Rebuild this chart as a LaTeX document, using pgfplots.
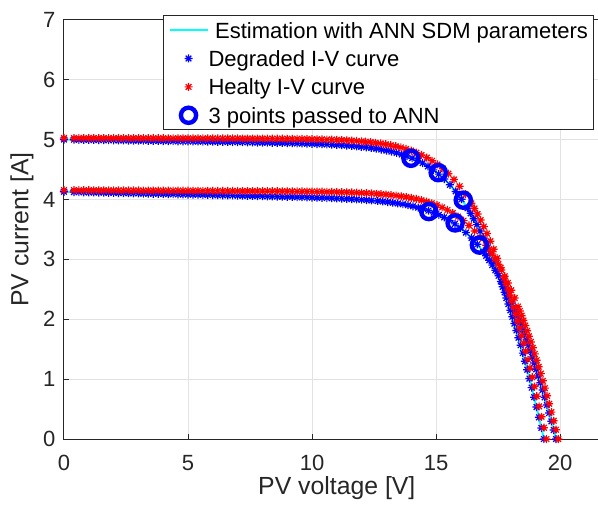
\documentclass[border=0pt]{standalone}
\usepackage{fontspec}
\setmainfont{Liberation Sans}
\usepackage{pgfplots}
\usepackage{pgfplotstable}
\pgfplotsset{compat=1.18}

\definecolor{axgray}{RGB}{38,38,38}
\definecolor{gridgray}{RGB}{226,226,226}
\definecolor{mcyan}{RGB}{0,255,255}
\definecolor{mblue}{RGB}{0,0,255}
\definecolor{mred}{RGB}{255,0,0}

% MATLAB-like '*' marker: plus and cross
\pgfdeclareplotmark{mstar}{%
  \pgfpathmoveto{\pgfqpoint{-\pgfplotmarksize}{0pt}}\pgfpathlineto{\pgfqpoint{\pgfplotmarksize}{0pt}}%
  \pgfpathmoveto{\pgfqpoint{0pt}{-\pgfplotmarksize}}\pgfpathlineto{\pgfqpoint{0pt}{\pgfplotmarksize}}%
  \pgfpathmoveto{\pgfqpoint{-0.707\pgfplotmarksize}{-0.707\pgfplotmarksize}}\pgfpathlineto{\pgfqpoint{0.707\pgfplotmarksize}{0.707\pgfplotmarksize}}%
  \pgfpathmoveto{\pgfqpoint{-0.707\pgfplotmarksize}{0.707\pgfplotmarksize}}\pgfpathlineto{\pgfqpoint{0.707\pgfplotmarksize}{-0.707\pgfplotmarksize}}%
  \pgfusepathqstroke}

\pgfplotsset{
  legline/.style={legend image code/.code={\draw[##1] (0pt,0pt) -- (19pt,0pt);}},
  legmark/.style={legend image code/.code={\path[draw=none,fill=none] (0pt,0pt) (19pt,0pt); \draw[##1] plot coordinates {(9.5pt,0pt)};}},
}

% degraded curve, high irradiance
\pgfplotstableread[row sep=\\]{
V I\\
0 5.002\\ 0.4 5.000\\ 0.6 4.998\\ 0.8 4.997\\ 1.0 4.996\\ 1.2 4.995\\ 1.4 4.994\\ 1.6 4.992\\ 1.8 4.991\\ 2.0 4.990\\
2.2 4.989\\ 2.4 4.988\\ 2.6 4.986\\ 2.8 4.985\\ 3.0 4.984\\ 3.2 4.983\\ 3.4 4.982\\ 3.6 4.980\\ 3.8 4.979\\ 4.0 4.978\\
4.2 4.977\\ 4.4 4.976\\ 4.6 4.974\\ 4.8 4.973\\ 5.0 4.972\\ 5.2 4.971\\ 5.4 4.970\\ 5.6 4.968\\ 5.8 4.967\\ 6.0 4.966\\
6.2 4.965\\ 6.4 4.964\\ 6.6 4.962\\ 6.8 4.961\\ 7.0 4.959\\ 7.2 4.958\\ 7.4 4.956\\ 7.6 4.955\\ 7.8 4.953\\ 8.0 4.952\\
8.2 4.950\\ 8.4 4.948\\ 8.6 4.947\\ 8.8 4.945\\ 9.0 4.943\\ 9.2 4.941\\ 9.4 4.939\\ 9.6 4.937\\ 9.8 4.934\\ 10.0 4.931\\
10.2 4.928\\ 10.4 4.925\\ 10.6 4.922\\ 10.8 4.918\\ 11.0 4.913\\ 11.2 4.908\\ 11.4 4.903\\ 11.6 4.896\\ 11.8 4.889\\
11.983 4.881\\ 12.186 4.872\\ 12.389 4.862\\ 12.592 4.850\\ 12.796 4.836\\ 13.001 4.819\\ 13.206 4.801\\ 13.412 4.779\\
13.619 4.754\\ 13.827 4.726\\ 14.036 4.692\\ 14.247 4.654\\ 14.460 4.609\\ 14.674 4.556\\ 14.891 4.496\\ 15.111 4.425\\
15.334 4.343\\ 15.561 4.247\\ 15.792 4.136\\ 16.028 4.006\\ 16.271 3.855\\ 16.394 3.770\\ 16.520 3.679\\ 16.647 3.581\\
16.777 3.474\\ 16.909 3.359\\ 17.044 3.235\\ 17.182 3.101\\ 17.322 2.957\\ 17.466 2.801\\ 17.613 2.632\\ 17.688 2.543\\
17.764 2.450\\ 17.841 2.354\\ 17.919 2.254\\ 17.998 2.150\\ 18.078 2.042\\ 18.160 1.929\\ 18.242 1.813\\ 18.326 1.692\\
18.412 1.566\\ 18.498 1.435\\ 18.586 1.299\\ 18.676 1.157\\ 18.767 1.010\\ 18.860 0.858\\ 18.954 0.699\\ 19.050 0.534\\
19.148 0.363\\ 19.248 0.185\\ 19.350 0.000\\
}\degA

% healthy curve, high irradiance
\pgfplotstableread[row sep=\\]{
V I\\
0 5.029\\ 0.4 5.028\\ 0.6 5.028\\ 0.8 5.028\\ 1.0 5.028\\ 1.2 5.028\\ 1.4 5.027\\ 1.6 5.027\\ 1.8 5.027\\ 2.0 5.027\\
2.2 5.026\\ 2.4 5.026\\ 2.6 5.026\\ 2.8 5.026\\ 3.0 5.026\\ 3.2 5.025\\ 3.4 5.025\\ 3.6 5.025\\ 3.8 5.025\\ 4.0 5.025\\
4.2 5.024\\ 4.4 5.024\\ 4.6 5.024\\ 4.8 5.024\\ 5.0 5.024\\ 5.2 5.023\\ 5.4 5.023\\ 5.6 5.023\\ 5.8 5.023\\ 6.0 5.023\\
6.2 5.022\\ 6.4 5.022\\ 6.6 5.022\\ 6.8 5.021\\ 7.0 5.021\\ 7.2 5.020\\ 7.4 5.020\\ 7.6 5.020\\ 7.8 5.019\\ 8.0 5.019\\
8.2 5.018\\ 8.4 5.018\\ 8.6 5.017\\ 8.8 5.016\\ 9.0 5.015\\ 9.2 5.014\\ 9.4 5.014\\ 9.6 5.012\\ 9.8 5.011\\ 10.0 5.009\\
10.2 5.007\\ 10.4 5.005\\ 10.6 5.003\\ 10.8 5.001\\ 11.0 4.997\\ 11.2 4.994\\ 11.4 4.990\\ 11.6 4.985\\ 11.8 4.979\\
12.0 4.973\\ 12.159 4.967\\ 12.361 4.959\\ 12.563 4.949\\ 12.766 4.937\\ 12.970 4.924\\ 13.174 4.909\\ 13.379 4.891\\
13.584 4.870\\ 13.790 4.845\\ 13.998 4.817\\ 14.206 4.784\\ 14.416 4.745\\ 14.628 4.700\\ 14.842 4.648\\ 15.058 4.586\\
15.276 4.515\\ 15.498 4.432\\ 15.723 4.335\\ 15.952 4.222\\ 16.187 4.090\\ 16.427 3.937\\ 16.549 3.851\\ 16.673 3.758\\
16.799 3.657\\ 16.927 3.549\\ 17.058 3.432\\ 17.191 3.305\\ 17.326 3.169\\ 17.465 3.021\\ 17.606 2.862\\ 17.751 2.690\\
17.824 2.599\\ 17.899 2.504\\ 17.975 2.406\\ 18.051 2.304\\ 18.129 2.197\\ 18.207 2.087\\ 18.287 1.972\\ 18.368 1.853\\
18.450 1.729\\ 18.534 1.600\\ 18.619 1.467\\ 18.705 1.328\\ 18.792 1.183\\ 18.881 1.033\\ 18.972 0.877\\ 19.064 0.715\\
19.158 0.546\\ 19.254 0.371\\ 19.351 0.189\\ 19.450 0.000\\
}\healA

% degraded curve, low irradiance
\pgfplotstableread[row sep=\\]{
V I\\
0 4.129\\ 0.4 4.126\\ 0.6 4.124\\ 0.8 4.122\\ 1.0 4.120\\ 1.2 4.118\\ 1.4 4.117\\ 1.6 4.115\\ 1.8 4.113\\ 2.0 4.111\\
2.2 4.109\\ 2.4 4.108\\ 2.6 4.106\\ 2.8 4.104\\ 3.0 4.102\\ 3.2 4.100\\ 3.4 4.099\\ 3.6 4.097\\ 3.8 4.095\\ 4.0 4.093\\
4.2 4.091\\ 4.4 4.090\\ 4.6 4.088\\ 4.8 4.086\\ 5.0 4.084\\ 5.2 4.082\\ 5.4 4.081\\ 5.6 4.079\\ 5.8 4.077\\ 6.0 4.075\\
6.2 4.073\\ 6.4 4.072\\ 6.6 4.070\\ 6.8 4.068\\ 7.0 4.066\\ 7.2 4.064\\ 7.4 4.062\\ 7.6 4.060\\ 7.8 4.058\\ 8.0 4.056\\
8.2 4.054\\ 8.4 4.052\\ 8.6 4.050\\ 8.8 4.048\\ 9.0 4.046\\ 9.2 4.044\\ 9.4 4.041\\ 9.6 4.039\\ 9.8 4.037\\ 10.0 4.034\\
10.2 4.031\\ 10.4 4.029\\ 10.6 4.026\\ 10.8 4.023\\ 11.0 4.019\\ 11.2 4.016\\ 11.4 4.012\\ 11.6 4.007\\ 11.8 4.003\\
12.0 3.997\\ 12.2 3.992\\ 12.4 3.985\\ 12.647 3.976\\ 12.850 3.968\\ 13.052 3.959\\ 13.256 3.948\\ 13.459 3.936\\
13.663 3.922\\ 13.868 3.906\\ 14.074 3.888\\ 14.280 3.867\\ 14.487 3.843\\ 14.696 3.815\\ 14.905 3.783\\ 15.116 3.745\\
15.329 3.702\\ 15.544 3.652\\ 15.762 3.594\\ 15.982 3.527\\ 16.205 3.449\\ 16.433 3.358\\ 16.664 3.252\\ 16.901 3.129\\
17.022 3.060\\ 17.144 2.986\\ 17.268 2.905\\ 17.394 2.819\\ 17.522 2.726\\ 17.653 2.625\\ 17.785 2.516\\ 17.920 2.399\\
18.058 2.272\\ 18.200 2.135\\ 18.271 2.063\\ 18.344 1.987\\ 18.417 1.909\\ 18.492 1.828\\ 18.567 1.744\\ 18.643 1.656\\
18.721 1.565\\ 18.799 1.470\\ 18.878 1.372\\ 18.959 1.270\\ 19.041 1.164\\ 19.124 1.053\\ 19.208 0.939\\ 19.294 0.819\\
19.381 0.696\\ 19.470 0.567\\ 19.560 0.434\\ 19.652 0.295\\ 19.745 0.150\\ 19.840 0.000\\
}\degB

% healthy curve, low irradiance
\pgfplotstableread[row sep=\\]{
V I\\
0 4.158\\ 0.4 4.157\\ 0.6 4.156\\ 0.8 4.156\\ 1.0 4.156\\ 1.2 4.155\\ 1.4 4.155\\ 1.6 4.155\\ 1.8 4.154\\ 2.0 4.154\\
2.2 4.153\\ 2.4 4.153\\ 2.6 4.153\\ 2.8 4.152\\ 3.0 4.152\\ 3.2 4.151\\ 3.4 4.151\\ 3.6 4.151\\ 3.8 4.150\\ 4.0 4.150\\
4.2 4.149\\ 4.4 4.149\\ 4.6 4.149\\ 4.8 4.148\\ 5.0 4.148\\ 5.2 4.147\\ 5.4 4.147\\ 5.6 4.147\\ 5.8 4.146\\ 6.0 4.146\\
6.2 4.145\\ 6.4 4.145\\ 6.6 4.144\\ 6.8 4.144\\ 7.0 4.143\\ 7.2 4.143\\ 7.4 4.142\\ 7.6 4.142\\ 7.8 4.141\\ 8.0 4.141\\
8.2 4.140\\ 8.4 4.140\\ 8.6 4.139\\ 8.8 4.138\\ 9.0 4.138\\ 9.2 4.137\\ 9.4 4.136\\ 9.6 4.135\\ 9.8 4.134\\ 10.0 4.133\\
10.2 4.132\\ 10.4 4.131\\ 10.6 4.129\\ 10.8 4.127\\ 11.0 4.125\\ 11.2 4.123\\ 11.4 4.121\\ 11.6 4.118\\ 11.8 4.115\\
12.0 4.111\\ 12.2 4.107\\ 12.4 4.103\\ 12.6 4.097\\ 12.784 4.091\\ 12.986 4.084\\ 13.189 4.076\\ 13.391 4.066\\
13.595 4.055\\ 13.798 4.042\\ 14.002 4.027\\ 14.207 4.010\\ 14.413 3.989\\ 14.620 3.966\\ 14.827 3.938\\ 15.036 3.906\\
15.247 3.869\\ 15.459 3.826\\ 15.673 3.775\\ 15.890 3.716\\ 16.109 3.648\\ 16.331 3.568\\ 16.557 3.475\\ 16.788 3.366\\
17.023 3.239\\ 17.143 3.169\\ 17.264 3.092\\ 17.387 3.009\\ 17.512 2.920\\ 17.639 2.824\\ 17.769 2.719\\ 17.900 2.607\\
18.034 2.486\\ 18.171 2.355\\ 18.310 2.213\\ 18.381 2.138\\ 18.453 2.060\\ 18.526 1.979\\ 18.599 1.895\\ 18.674 1.808\\
18.749 1.717\\ 18.826 1.622\\ 18.903 1.524\\ 18.982 1.422\\ 19.061 1.317\\ 19.142 1.206\\ 19.224 1.092\\ 19.308 0.973\\
19.392 0.850\\ 19.478 0.721\\ 19.565 0.588\\ 19.654 0.449\\ 19.745 0.305\\ 19.836 0.156\\ 19.930 0.000\\
}\healB

% the three measured points of each degraded curve
\pgfplotstableread[row sep=\\]{
V I\\
13.99 4.69\\ 15.09 4.45\\ 16.10 3.99\\
14.71 3.80\\ 15.77 3.61\\ 16.75 3.24\\
}\annpts

\begin{document}
\begin{tikzpicture}
\begin{axis}[
    x=12.4pt, y=29.93pt,
    xmin=0, xmax=22, ymin=0, ymax=7,
    xtick={0,5,10,15,20}, ytick={0,1,2,3,4,5,6,7},
    grid=major,
    major grid style={gridgray, line width=0.5pt},
    axis line style={axgray, line width=0.5pt},
    tick align=inside, major tick length=2.5pt,
    tick style={axgray, line width=0.5pt},
    /pgf/number format/assume math mode=true,
    ticklabel style={font=\fontsize{11}{13}\selectfont, text=axgray},
    xticklabel style={yshift=-4.5pt},
    yticklabel style={xshift=-0.8pt},
    xlabel={PV voltage [V]}, ylabel={PV current [A]},
    label style={font=\fontsize{12.4}{14}\selectfont, text=axgray},
    xlabel style={at={(axis description cs:0.5,-0.117)}, anchor=center},
    ylabel style={at={(axis description cs:-0.077,0.5)}, anchor=center},
    legend cell align=left,
    legend style={
        at={(axis description cs:0.1815,1.0119)}, anchor=north west,
        draw=axgray, line width=0.5pt, fill=white,
        font=\fontsize{11}{13}\selectfont,
        inner xsep=2.5pt, inner ysep=1.5pt, row sep=2.6pt,
        nodes={inner sep=0pt, text height=9.8pt, text depth=1.8pt},
        /tikz/every odd column/.append style={column sep=0pt},
    },
    clip=false,
]
\addplot[mcyan, line width=1pt, no markers, legline] table {\degA};
\addlegendentry{\hspace*{3.3pt}Estimation with ANN SDM parameters}
\addplot[mcyan, line width=1pt, no markers, forget plot] table {\degB};

\addplot[mblue, only marks, mark=mstar, mark size=2pt, line width=0.6pt, legmark] table {\degA};
\addlegendentry{Degraded I-V curve}
\addplot[mblue, only marks, mark=mstar, mark size=2pt, line width=0.6pt, forget plot] table {\degB};

\addplot[mred, only marks, mark=mstar, mark size=2pt, line width=0.6pt, legmark] table {\healA};
\addlegendentry{Healty I-V curve}
\addplot[mred, only marks, mark=mstar, mark size=2pt, line width=0.6pt, forget plot] table {\healB};

\addplot[mblue, only marks, mark=o, mark size=3.8pt, line width=2.2pt, legmark] table {\annpts};
\addlegendentry{3 points passed to ANN}
\end{axis}
\pgfresetboundingbox
\useasboundingbox (-32pt,-32.5pt) rectangle (267pt,219.5pt);
\end{tikzpicture}
\end{document}
